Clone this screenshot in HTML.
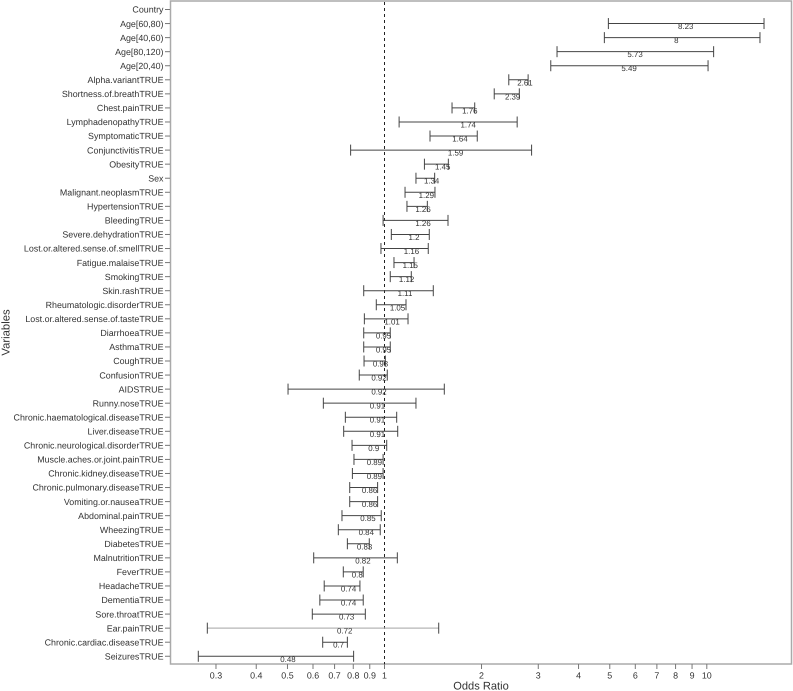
<!DOCTYPE html>
<html>
<head>
<meta charset="utf-8">
<style>
html,body{margin:0;padding:0;background:#fff;}
svg{display:block;font-family:"Liberation Sans",sans-serif;text-rendering:geometricPrecision;}
</style>
</head>
<body>
<svg id="chart" width="793" height="691" viewBox="0 0 793 691" xmlns="http://www.w3.org/2000/svg">
<rect x="170.5" y="1" width="621" height="663" fill="#fff" stroke="#aaa" stroke-width="1.5"></rect>
<text x="481" y="689.5" font-size="11.1" text-anchor="middle" fill="#333">Odds Ratio</text>
<text transform="translate(9.5,332.5) rotate(-90)" font-size="11.3" text-anchor="middle" fill="#333">Variables</text>
</svg>
<script>
const categories = ["Country","Age[60,80)","Age[40,60)","Age[80,120)","Age[20,40)","Alpha.variantTRUE","Shortness.of.breathTRUE","Chest.painTRUE","LymphadenopathyTRUE","SymptomaticTRUE","ConjunctivitisTRUE","ObesityTRUE","Sex","Malignant.neoplasmTRUE","HypertensionTRUE","BleedingTRUE","Severe.dehydrationTRUE","Lost.or.altered.sense.of.smellTRUE","Fatigue.malaiseTRUE","SmokingTRUE","Skin.rashTRUE","Rheumatologic.disorderTRUE","Lost.or.altered.sense.of.tasteTRUE","DiarrhoeaTRUE","AsthmaTRUE","CoughTRUE","ConfusionTRUE","AIDSTRUE","Runny.noseTRUE","Chronic.haematological.diseaseTRUE","Liver.diseaseTRUE","Chronic.neurological.disorderTRUE","Muscle.aches.or.joint.painTRUE","Chronic.kidney.diseaseTRUE","Chronic.pulmonary.diseaseTRUE","Vomiting.or.nauseaTRUE","Abdominal.painTRUE","WheezingTRUE","DiabetesTRUE","MalnutritionTRUE","FeverTRUE","HeadacheTRUE","DementiaTRUE","Sore.throatTRUE","Ear.painTRUE","Chronic.cardiac.diseaseTRUE","SeizuresTRUE"];
const oddsRatios = [null,8.23,8,5.73,5.49,2.61,2.39,1.76,1.74,1.64,1.59,1.45,1.34,1.29,1.26,1.26,1.2,1.16,1.15,1.12,1.11,1.05,1.01,0.95,0.95,0.93,0.92,0.92,0.91,0.91,0.91,0.9,0.89,0.89,0.86,0.86,0.85,0.84,0.83,0.82,0.8,0.74,0.74,0.73,0.72,0.7,0.48];
const lowerCI = [null,4.95,4.81,3.43,3.28,2.43,2.19,1.62,1.11,1.384,0.785,1.33,1.252,1.158,1.174,0.99,1.05,0.975,1.07,1.042,0.862,0.943,0.866,0.862,0.862,0.864,0.835,0.502,0.646,0.756,0.747,0.793,0.804,0.795,0.78,0.78,0.738,0.719,0.767,0.603,0.745,0.65,0.63,0.597,0.282,0.643,0.2644];
const upperCI = [null,15.05,14.62,10.5,10.09,2.79,2.62,1.905,2.58,1.94,2.86,1.578,1.431,1.434,1.358,1.574,1.377,1.367,1.235,1.211,1.417,1.166,1.183,1.042,1.042,1.006,1.02,1.533,1.252,1.091,1.099,1.016,0.99,0.99,0.952,0.952,0.977,0.97,0.897,1.096,0.859,0.839,0.859,0.872,1.473,0.767,0.802];
const xTicks = [0.3,0.4,0.5,0.6,0.7,0.8,0.9,1,2,3,4,5,6,7,8,9,10];

const NS = "http://www.w3.org/2000/svg";
const svg = document.getElementById("chart");
const xScale = v => 384.5 + 322.3 * Math.log10(v);
const yScale = i => 9.5 + 14.06 * i;
const PLOT_BOTTOM = 664;

function add(tag, attrs, text) {
  const el = document.createElementNS(NS, tag);
  for (const k in attrs) el.setAttribute(k, attrs[k]);
  if (text !== undefined) el.textContent = text;
  svg.appendChild(el);
  return el;
}
function slug(s) {
  return s.toLowerCase().replace(/[^a-z0-9]+/g, "-").replace(/^-|-$/g, "");
}

xTicks.forEach(t => {
  const x = xScale(t);
  const tick = add("line", {x1: x, x2: x, y1: PLOT_BOTTOM, y2: PLOT_BOTTOM + 5, stroke: "#777", "stroke-width": 1});
  
  
  const label = add("text", {x: x, y: 678.5, "font-size": 8.9, "text-anchor": "middle", fill: "#333"}, String(t));
  
  
});

categories.forEach((c, i) => {
  const y = yScale(i);
  const tick = add("line", {x1: 165, x2: 170, y1: y, y2: y, stroke: "#777", "stroke-width": 1});
  
  
  const label = add("text", {x: 163.5, y: y + 3.2, "font-size": 8.9, "text-anchor": "end", fill: "#333"}, c);
  
  
});

const refLine = add("line", {x1: xScale(1), x2: xScale(1), y1: 2, y2: PLOT_BOTTOM, stroke: "#222", "stroke-width": 1, "stroke-dasharray": "3 3"});



categories.forEach((c, i) => {
  if (oddsRatios[i] === null) return;
  const y = yScale(i);
  const x1 = xScale(lowerCI[i]);
  const x2 = xScale(upperCI[i]);
  const isFaint = c === "Ear.painTRUE";
  const stroke = isFaint ? "#b5b5b5" : "#444";
  const width = isFaint ? 1.3 : 1;
  const bar = add("line", {x1: x1, x2: x2, y1: y, y2: y, stroke: stroke, "stroke-width": width});
  
  
  const capL = add("line", {x1: x1, x2: x1, y1: y - 5.5, y2: y + 5.5, stroke: "#444", "stroke-width": 1});
  
  
  const capU = add("line", {x1: x2, x2: x2, y1: y - 5.5, y2: y + 5.5, stroke: "#444", "stroke-width": 1});
  
  
  const val = add("text", {x: xScale(oddsRatios[i]) - 1.5, y: y + 5.5, "font-size": 7.9, fill: "#333"}, String(oddsRatios[i]));
  
  
});
</script>
</body>
</html>
